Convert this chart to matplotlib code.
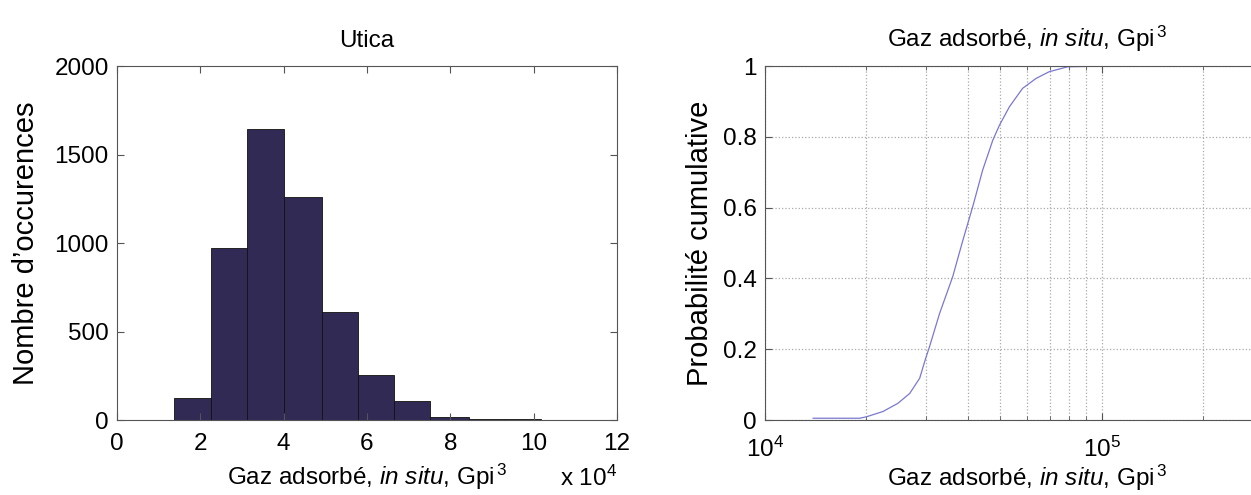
import numpy as np
import matplotlib
matplotlib.use("Agg")
import matplotlib.pyplot as plt
from matplotlib.ticker import FormatStrFormatter, LogLocator

plt.rcParams['font.family'] = ['Liberation Sans', 'DejaVu Sans']
plt.rcParams['mathtext.fontset'] = 'custom'
plt.rcParams['mathtext.rm'] = 'Liberation Sans'
plt.rcParams['mathtext.it'] = 'Liberation Sans:italic'

# histogramme (bornes des classes en Gpi3, effectifs)
bin_edges = [13800, 22500, 31200, 40200, 49200, 57900, 66600, 75200, 84400, 93200, 101800]
counts = [126, 971, 1644, 1261, 613, 254, 105, 19, 8, 8]

# fonction de répartition empirique (Gpi3, probabilité)
cdf_x = [13900, 19100, 20000, 22400, 24800, 26900, 28800, 30000, 30800, 33000,
         36100, 38700, 41400, 44300, 47500, 49700, 53200, 58200, 63800, 69800,
         79200, 101800]
cdf_p = [0.005, 0.005, 0.009, 0.024, 0.047, 0.075, 0.118, 0.174, 0.207, 0.301,
         0.405, 0.508, 0.603, 0.706, 0.791, 0.833, 0.885, 0.937, 0.965, 0.984,
         0.998, 1.0]

xlabel = r'Gaz adsorbé, $\mathit{in\ situ}$, Gpi$^{\,3}$'
fs = 17.5
spine_col = '#555555'

fig = plt.figure(figsize=(12.51, 4.95), dpi=100)

# --- histogramme ---
ax1 = fig.add_axes([0.0935, 0.1515, 0.3997, 0.715])
widths = np.diff(bin_edges)
ax1.bar(bin_edges[:-1], counts, width=widths, align='edge',
        color='#312a55', edgecolor='#111111', linewidth=0.6)
ax1.set_xlim(0, 120000)
ax1.set_ylim(0, 2000)
ax1.set_xticks(np.arange(0, 120001, 20000))
ax1.set_xticklabels([str(v) for v in range(0, 13, 2)])
ax1.set_yticks([0, 500, 1000, 1500, 2000])
ax1.tick_params(direction='in', top=True, right=True, labelsize=fs, length=5,
                color=spine_col)
ax1.tick_params(axis='x', pad=9)
ax1.tick_params(axis='y', pad=6)
for s in ax1.spines.values():
    s.set_color(spine_col)
ax1.set_title('Utica', fontsize=fs, pad=14)
ax1.set_xlabel(xlabel, fontsize=fs, labelpad=5)
ax1.set_ylabel("Nombre d’occurences", fontsize=21, labelpad=10)
fig.text(617 / 1251, 0.008, r'x 10$^{4}$', ha='right', va='bottom', fontsize=fs)

# --- fonction de répartition ---
ax2 = fig.add_axes([0.6115, 0.1515, 0.4189, 0.715])
ax2.plot(cdf_x, cdf_p, color='#7a78d0', linewidth=0.9)
ax2.set_xscale('log')
ax2.set_xlim(1e4, 3.6e5)
ax2.set_ylim(0, 1)
ax2.xaxis.set_major_locator(LogLocator(base=10))
ax2.xaxis.set_minor_locator(LogLocator(base=10, subs=np.arange(2, 10)))
ax2.xaxis.set_minor_formatter(plt.NullFormatter())
ax2.set_yticks([0, 0.2, 0.4, 0.6, 0.8, 1.0])
ax2.yaxis.set_major_formatter(FormatStrFormatter('%g'))
ax2.grid(True, which='both', linestyle=':', color='#aaaaaa', linewidth=0.9)
ax2.tick_params(which='both', direction='in', top=True, right=True,
                labelsize=fs, color=spine_col)
ax2.tick_params(which='major', length=5)
ax2.tick_params(which='minor', length=3)
ax2.tick_params(axis='x', which='both', pad=12)
ax2.tick_params(axis='y', pad=6)
for s in ax2.spines.values():
    s.set_color(spine_col)
ax2.set_title(xlabel, fontsize=fs, pad=14)
ax2.set_xlabel(xlabel, fontsize=fs, labelpad=1)
ax2.set_ylabel('Probabilité cumulative', fontsize=21, labelpad=6)

fig.savefig('out.png', dpi=100)
